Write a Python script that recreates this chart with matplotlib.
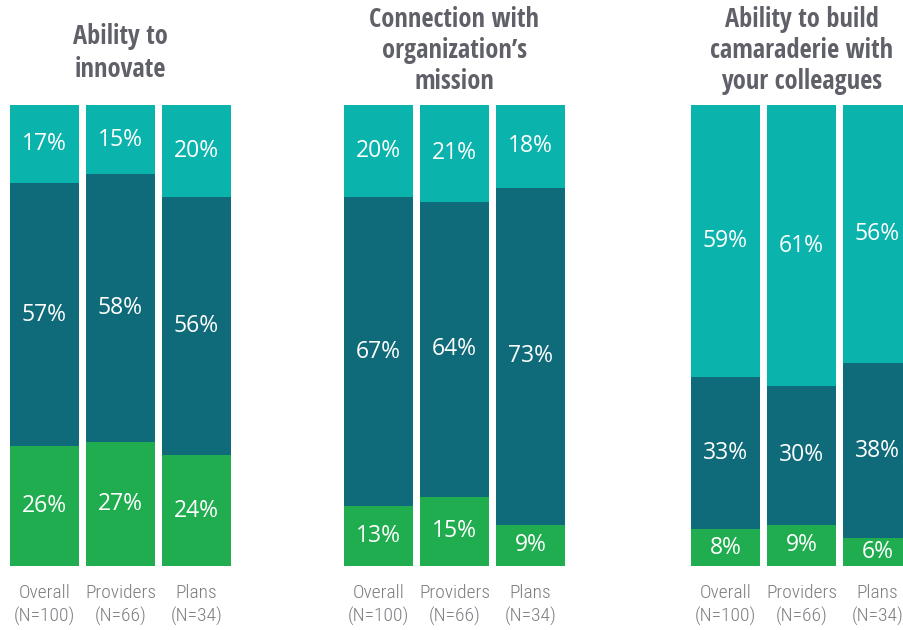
import matplotlib
matplotlib.use("Agg")
import matplotlib.pyplot as plt
from matplotlib import font_manager

# narrow fonts: bold one for titles, light one for the group labels
fl = font_manager.fontManager.ttflist
names = set(f.name for f in fl)
title_font = "Open Sans Condensed" if "Open Sans Condensed" in names else "Open Sans"

tick_font, tick_weight, tick_size = "Open Sans", "light", 12.5
for cand in ["Open Sans Condensed", "Roboto Condensed", "Noto Sans Condensed Light",
             "Noto Sans Condensed", "Liberation Sans Narrow", "DejaVu Sans Condensed"]:
    found = [f for f in fl if f.name == cand and f.weight in (200, 300, 400, "light", "normal", "regular")]
    if found:
        w = min(found, key=lambda f: f.weight if isinstance(f.weight, int) else 400).weight
        tick_font, tick_weight, tick_size = cand, w, 14
        break
plt.rcParams['font.family'] = ["Open Sans", 'DejaVu Sans']

titles = ["Ability to\ninnovate",
          "Connection with\norganization\u2019s\nmission",
          "Ability to build\ncamaraderie with\nyour colleagues"]
groups = ["Overall\n(N=100)", "Providers\n(N=66)", "Plans\n(N=34)"]

# bottom (green), middle (dark teal), top (light teal) per panel
bottom_vals = [[26, 27, 24], [13, 15, 9], [8, 9, 6]]
middle_vals = [[57, 58, 56], [67, 64, 73], [33, 30, 38]]
top_vals = [[17, 15, 20], [20, 21, 18], [59, 61, 56]]

green = "#1fad4f"
dark = "#0f6b79"
light = "#0ab3ac"
title_col = "#5f6068"
tick_col = "#7c7d82"

W, H = 904, 630
fig = plt.figure(figsize=(W / 100, H / 100), dpi=100)

lefts = [10, 344, 691]
title_gap = [22, 10, 10]  # px above bar tops
title_ls = [1.3, 1.2, 1.2]
for k in range(3):
    ax = fig.add_axes([lefts[k] / W, (H - 566) / H, 221 / W, 461 / H])
    x = [0, 1, 2]
    bw = 69 / 76
    b = bottom_vals[k]
    m = middle_vals[k]
    t = top_vals[k]
    ax.bar(x, b, width=bw, color=green)
    ax.bar(x, m, width=bw, bottom=b, color=dark)
    bt = [b[i] + m[i] for i in x]
    ax.bar(x, t, width=bw, bottom=bt, color=light)
    for i in x:
        for val, base in [(b[i], 0), (m[i], b[i]), (t[i], bt[i])]:
            ax.text(i, base + val / 2, f"{val}%", ha="center", va="center",
                    color="white", fontsize=16.5, fontweight="medium")
    ax.set_xlim(-bw / 2, 2 + bw / 2)
    ax.set_ylim(0, 100)
    ax.set_yticks([])
    ax.set_xticks(x)
    ax.set_xticklabels(groups, fontsize=tick_size, color=tick_col, family=tick_font,
                       fontweight=tick_weight, linespacing=1.3)
    ax.tick_params(axis="x", length=0, pad=13)
    for s in ax.spines.values():
        s.set_visible(False)
    ax.text(1, 100 + title_gap[k] / 4.61, titles[k], ha="center", va="bottom",
            fontsize=19, fontweight="bold", color=title_col, linespacing=title_ls[k],
            family=title_font)

fig.savefig("out.png", dpi=100)
